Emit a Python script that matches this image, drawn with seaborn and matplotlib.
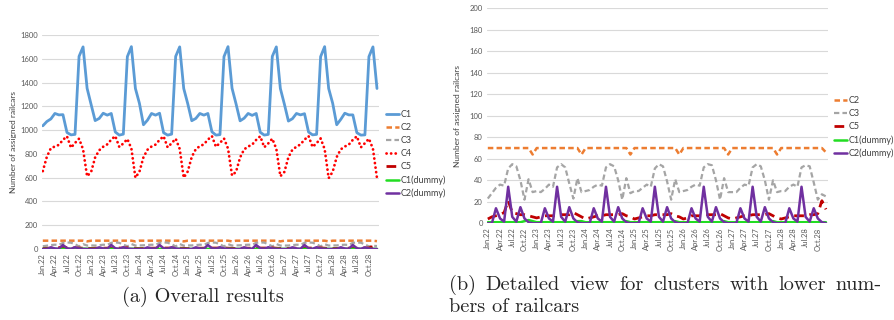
import numpy as np
import pandas as pd
import matplotlib
matplotlib.use("Agg")
import matplotlib.pyplot as plt
import seaborn as sns

# Monthly assigned railcars per cluster, Jan.22 .. Dec.28
years = ["22", "23", "24", "25", "26", "27", "28"]
months = ["Jan", "Feb", "Mar", "Apr", "May", "Jun", "Jul", "Aug", "Sep", "Oct", "Nov", "Dec"]

c1 = [1036, 1072, 1094, 1140, 1128, 1130, 980, 960, 964, 1620, 1700, 1352,
      1215, 1080, 1098, 1142, 1126, 1140, 984, 958, 966, 1618, 1702, 1350,
      1225, 1045, 1084, 1140, 1126, 1142, 978, 958, 966, 1620, 1700, 1350,
      1222, 1079, 1098, 1140, 1126, 1140, 986, 958, 962, 1618, 1702, 1352,
      1220, 1078, 1100, 1140, 1124, 1140, 982, 958, 964, 1620, 1700, 1350,
      1218, 1076, 1096, 1140, 1128, 1138, 984, 960, 964, 1618, 1702, 1350,
      1225, 1045, 1090, 1142, 1128, 1128, 978, 958, 960, 1618, 1700, 1350]

c2 = [70, 70, 70, 70, 70, 70, 70, 70, 70, 70, 70, 64,
      70, 70, 70, 70, 70, 70, 70, 70, 70, 70, 70, 64,
      70, 70, 70, 70, 70, 70, 70, 70, 70, 70, 70, 64,
      70, 70, 70, 70, 70, 70, 70, 70, 70, 70, 70, 64,
      70, 70, 70, 70, 70, 70, 70, 70, 70, 70, 70, 64,
      70, 70, 70, 70, 70, 70, 70, 70, 70, 70, 70, 64,
      70, 70, 70, 70, 70, 70, 70, 70, 70, 70, 70, 66]

c3 = [23, 28, 33, 36, 35, 51, 55, 53, 40, 22, 41, 29,
      30, 29, 32, 36, 34, 52, 55, 52, 37, 23, 42, 29,
      30, 31, 34, 36, 35, 52, 55, 53, 40, 22, 42, 28,
      30, 30, 33, 36, 34, 51, 55, 53, 39, 22, 41, 29,
      30, 31, 34, 36, 35, 52, 55, 54, 40, 22, 42, 29,
      29, 29, 33, 36, 35, 52, 55, 53, 40, 22, 40, 29,
      30, 30, 34, 36, 34, 52, 54, 53, 38, 22, 27, 25]

c4 = [655, 775, 848, 862, 876, 918, 948, 852, 892, 928, 838, 612,
      648, 770, 830, 860, 880, 920, 950, 858, 888, 925, 845, 600,
      650, 772, 835, 862, 878, 918, 948, 855, 890, 928, 842, 600,
      652, 775, 840, 865, 880, 920, 950, 860, 892, 930, 845, 618,
      650, 770, 838, 862, 878, 918, 948, 856, 888, 928, 842, 612,
      648, 772, 836, 860, 880, 920, 950, 858, 890, 930, 840, 596,
      650, 774, 838, 862, 878, 918, 948, 855, 890, 928, 842, 596]

c5 = [4, 6, 7, 8, 10, 21, 10, 9, 8, 8, 7, 6,
      5, 6, 7, 7, 7, 7, 8, 8, 8, 10, 8, 6,
      4, 5, 6, 7, 7, 8, 8, 8, 8, 9, 7, 6,
      4, 5, 6, 7, 7, 8, 8, 8, 8, 9, 7, 6,
      4, 5, 7, 7, 7, 8, 8, 8, 8, 9, 7, 5,
      4, 5, 6, 7, 7, 8, 8, 8, 8, 9, 7, 5,
      4, 5, 6, 7, 7, 7, 7, 8, 8, 9, 21, 13]

c1_dummy = [1, 1, 1, 1, 1, 1, 1, 1, 1, 2, 3, 2,
            1, 1, 1, 1, 1, 1, 1, 1, 1, 1, 2, 2,
            1, 1, 1, 1, 1, 1, 1, 1, 1, 1, 2, 1,
            1, 1, 1, 1, 1, 1, 1, 1, 1, 1, 2, 1,
            1, 1, 1, 1, 1, 1, 1, 1, 1, 1, 2, 1,
            1, 1, 1, 1, 1, 1, 1, 1, 1, 1, 2, 1,
            1, 1, 1, 1, 1, 1, 1, 1, 1, 1, 1, 1]

c2_dummy = [0, 0, 14, 4.5, 1.5, 34, 6, 1.5, 15, 4.5, 1, 0,
            0, 0, 14, 4.5, 1.5, 34, 6, 1.5, 15, 4.5, 1, 0,
            0, 0, 14, 4.5, 1.5, 34, 6, 1.5, 15, 4.5, 1, 0,
            0, 0, 14, 4.5, 1.5, 34, 6, 1.5, 15, 4.5, 1, 0,
            0, 0, 14, 4.5, 1.5, 34, 6, 1.5, 15, 4.5, 1, 0,
            0, 0, 14, 4.5, 1.5, 34, 6, 1.5, 15, 4.5, 1, 0,
            0, 0, 14, 4.5, 1.5, 34, 6, 1.5, 14, 4.5, 1, 0]

month_labels = [f"{m}.{y}" for y in years for m in months]

df = pd.DataFrame({
    "t": np.arange(len(month_labels)),
    "C1": c1, "C2": c2, "C3": c3, "C4": c4, "C5": c5,
    "C1(dummy)": c1_dummy, "C2(dummy)": c2_dummy,
})

sns.set_style("white")
plt.rcParams["font.family"] = ["Lato", "DejaVu Sans"]

styles = {
    "C1":        dict(color="#5B9BD5", ls="-", lw=2.0),
    "C2":        dict(color="#ED7D31", ls=(0, (2.2, 1.3)), lw=1.8),
    "C3":        dict(color="#A5A5A5", ls=(0, (2.4, 1.4)), lw=1.6),
    "C4":        dict(color="#FF0000", ls=(0, (0.05, 1.6)), lw=2.0),
    "C5":        dict(color="#C00000", ls=(0, (3.5, 2.0)), lw=2.0),
    "C1(dummy)": dict(color="#22DD22", ls="-", lw=1.8),
    "C2(dummy)": dict(color="#7030A0", ls="-", lw=1.8),
}

fig = plt.figure(figsize=(8.94, 3.2), dpi=100)
ax_a = fig.add_axes([42 / 894, 1 - 249 / 320, 337 / 894, 214 / 320])
ax_b = fig.add_axes([487 / 894, 1 - 223.3 / 320, 341 / 894, 215 / 320])


def draw(ax, names, ymax, ystep):
    for name in names:
        st = styles[name]
        sns.lineplot(data=df, x="t", y=name, ax=ax, color=st["color"],
                     linewidth=st["lw"], label=name)
        line = ax.get_lines()[-1]
        line.set_linestyle(st["ls"])
        line.set_dash_capstyle("round" if name == "C4" else "butt")
    ax.set_xlim(-0.2, 83.5)
    ax.set_ylim(0, ymax)
    ax.set_yticks(np.arange(0, ymax + 1, ystep))
    ax.set_xticks(df["t"][::3])
    ax.set_xticklabels(month_labels[::3], rotation=90)
    ax.tick_params(axis="both", labelsize=5.5, colors="#595959", length=0, pad=3)
    ax.yaxis.grid(True, color="#D9D9D9", linewidth=0.8)
    ax.xaxis.grid(False)
    ax.set_axisbelow(True)
    for s in ax.spines.values():
        s.set_visible(False)
    ax.set_xlabel("")
    ax.set_ylabel("Number of assigned railcars", fontsize=6, color="#404040")


all_names = ["C1", "C2", "C3", "C4", "C5", "C1(dummy)", "C2(dummy)"]
low_names = ["C2", "C3", "C5", "C1(dummy)", "C2(dummy)"]

draw(ax_a, all_names, 1800, 200)
draw(ax_b, low_names, 200, 20)
ax_a.yaxis.set_label_coords(-0.075, 0.5)
ax_b.yaxis.set_label_coords(-0.075, 0.5)

for ax, x0, ytop in [(ax_a, 386, 110), (ax_b, 834, 96)]:
    h, l = ax.get_legend_handles_labels()
    for hh, name in zip(h, l):
        hh.set_linestyle(styles[name]["ls"])
    ax.legend(h, l, loc="upper left", bbox_to_anchor=(x0 / 894, 1 - ytop / 320),
              bbox_transform=fig.transFigure, frameon=False, fontsize=6.5,
              handlelength=1.4, handletextpad=0.25, labelspacing=0.45,
              borderpad=0, borderaxespad=0, labelcolor="#404040")

cap_kw = dict(family="cmr10", fontsize=14.6, va="center")
fig.text(203 / 894, 1 - 297 / 320, "(a) Overall results", ha="center", **cap_kw)

# First caption line of (b) is set justified between x=449 and x=882
words = "(b) Detailed view for clusters with lower num-".split()
renderer = fig.canvas.get_renderer()
texts = [fig.text(0, 1 - 285 / 320, w, ha="left", **cap_kw) for w in words]
widths = [t.get_window_extent(renderer).width for t in texts]
left, right = 449.0, 882.0
gap = (right - left - sum(widths)) / (len(words) - 1)
x = left
for t, w in zip(texts, widths):
    t.set_x(x / 894)
    x += w + gap
fig.text(449 / 894, 1 - 307 / 320, "bers of railcars", ha="left", **cap_kw)

fig.savefig("out.png", dpi=100)
